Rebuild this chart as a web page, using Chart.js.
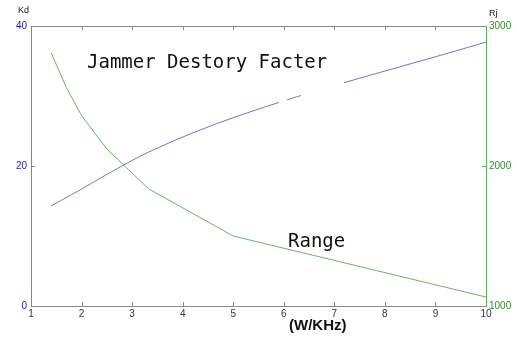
<!DOCTYPE html>
<html>
<head>
<meta charset="utf-8">
<script src="https://cdn.jsdelivr.net/npm/chart.js@4/dist/chart.umd.min.js"></script>
<style>
  html, body { margin: 0; padding: 0; background: #fff; }
  #c { display: block; }
</style>
</head>
<body>
<canvas id="c" width="517" height="338"></canvas>
<script>
// values
const kdPower = [1.4, 1.6, 1.8, 2, 2.5, 3.33, 5, 10];
const kdValues = [14.3, 15.1, 15.9, 16.7, 18.8, 22.0, 26.9, 37.7];
const rjPower = [1.4, 1.7, 2, 2.5, 3.33, 5, 10];
const rjValues = [2807, 2560, 2360, 2121, 1836, 1500, 1064];
const xTicks = [1, 2, 3, 4, 5, 6, 7, 8, 9, 10];
const kdTicks = [0, 20, 40];
const rjTicks = [1000, 2000, 3000];

const toPoints = (xs, ys) => xs.map((x, i) => ({ x: x, y: ys[i] }));

// frame, inward ticks and the loose labels
const decor = {
    id: 'decor',
    afterDatasetsDraw(chart) {
        const { ctx, chartArea: a, scales } = chart;
        ctx.save();

        // white smudges over the Kd curve (as in the scan)
        ctx.fillStyle = '#fff';
        ctx.fillRect(279, 98, 8, 10);
        ctx.fillRect(301, 80, 43, 22);

        ctx.lineWidth = 1;
        // top + bottom
        ctx.strokeStyle = '#8a8a8a';
        ctx.beginPath();
        ctx.moveTo(a.left, a.top + 0.5); ctx.lineTo(a.right, a.top + 0.5);
        ctx.moveTo(a.left, a.bottom + 0.5); ctx.lineTo(a.right, a.bottom + 0.5);
        xTicks.slice(1, -1).forEach(v => {
            const px = Math.round(scales.x.getPixelForValue(v)) + 0.5;
            ctx.moveTo(px, a.top); ctx.lineTo(px, a.top + 4);
            ctx.moveTo(px, a.bottom); ctx.lineTo(px, a.bottom - 4);
        });
        ctx.stroke();

        // left axis
        ctx.strokeStyle = '#8080a0';
        ctx.beginPath();
        ctx.moveTo(a.left + 0.5, a.top); ctx.lineTo(a.left + 0.5, a.bottom + 1);
        const py = Math.round(scales.y.getPixelForValue(20)) + 0.5;
        ctx.moveTo(a.left, py); ctx.lineTo(a.left + 4, py);
        ctx.stroke();

        // right axis
        ctx.strokeStyle = '#5fae5f';
        ctx.beginPath();
        ctx.moveTo(a.right + 0.5, a.top); ctx.lineTo(a.right + 0.5, a.bottom + 1);
        const pr = Math.round(scales.y1.getPixelForValue(2000)) + 0.5;
        ctx.moveTo(a.right, pr); ctx.lineTo(a.right - 4, pr);
        ctx.stroke();

        ctx.fillStyle = '#111';
        ctx.textBaseline = 'alphabetic';
        ctx.font = '9px "Liberation Sans", Arial, sans-serif';
        ctx.fillText('Kd', 18, 13);
        ctx.fillText('Rj', 489, 16);

        ctx.font = '19px "DejaVu Sans Mono", monospace';
        ctx.fillText('Jammer Destory Facter', 87, 68);
        ctx.fillText('Range', 288, 247);

        ctx.font = 'bold 15px "Liberation Sans", Arial, sans-serif';
        ctx.fillText('(W/KHz)', 289, 330);
        ctx.restore();
    }
};

new Chart(document.getElementById('c'), {
    type: 'line',
    data: {
        datasets: [
            {
                label: 'Kd',
                data: toPoints(kdPower, kdValues),
                yAxisID: 'y',
                borderColor: '#7474c4',
                borderWidth: 1,
                pointRadius: 0,
                cubicInterpolationMode: 'monotone'
            },
            {
                label: 'Rj',
                data: toPoints(rjPower, rjValues),
                yAxisID: 'y1',
                borderColor: '#6cb06c',
                borderWidth: 1,
                pointRadius: 0,
                tension: 0
            }
        ]
    },
    options: {
        responsive: false,
        animation: false,
        layout: { padding: { top: 26 } },
        plugins: { legend: { display: false }, tooltip: { enabled: false } },
        scales: {
            x: {
                type: 'linear',
                min: 1,
                max: 10,
                afterBuildTicks: s => { s.ticks = xTicks.map(v => ({ value: v })); },
                afterFit: s => { s.height = 32; },
                grid: { display: false, drawTicks: false },
                border: { display: false },
                ticks: {
                    padding: 2,
                    color: '#333',
                    callback: v => String(v),
                    font: { size: 10, family: '"Liberation Sans", Arial, sans-serif' }
                }
            },
            y: {
                position: 'left',
                min: 0,
                max: 40,
                afterBuildTicks: s => { s.ticks = kdTicks.map(v => ({ value: v })); },
                afterFit: s => { s.width = 31; },
                grid: { display: false, drawTicks: false },
                border: { display: false },
                ticks: {
                    padding: 4,
                    color: '#1c1ca8',
                    callback: v => String(v),
                    font: { size: 10, family: '"Liberation Sans", Arial, sans-serif' }
                }
            },
            y1: {
                position: 'right',
                min: 1000,
                max: 3000,
                afterBuildTicks: s => { s.ticks = rjTicks.map(v => ({ value: v })); },
                afterFit: s => { s.width = 31; },
                grid: { display: false, drawTicks: false },
                border: { display: false },
                ticks: {
                    padding: 3,
                    color: '#2f8f2f',
                    callback: v => String(v),
                    font: { size: 10, family: '"Liberation Sans", Arial, sans-serif' }
                }
            }
        }
    },
    plugins: [decor]
});
</script>
</body>
</html>
